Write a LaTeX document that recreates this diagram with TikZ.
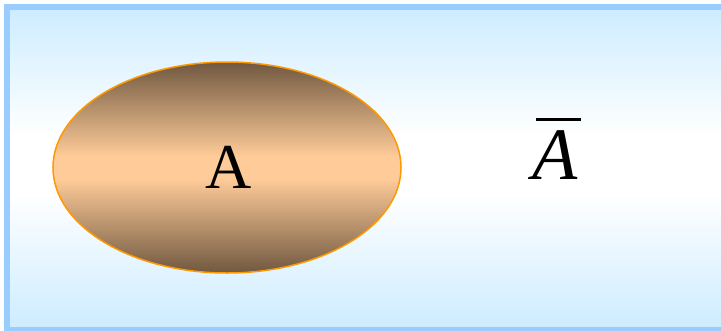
\documentclass[tikz,border=0pt]{standalone}
\usepackage{fontspec}
\setmainfont{Liberation Serif}
\definecolor{frameblue}{RGB}{153,204,255}
\definecolor{skyblue}{RGB}{204,236,255}
\definecolor{darkbrown}{RGB}{112,88,64}
\definecolor{peach}{RGB}{255,204,153}
\definecolor{setorange}{RGB}{255,153,0}
\pgfdeclareverticalshading{skyband}{100bp}{color(0bp)=(skyblue); color(25bp)=(skyblue); color(46bp)=(white); color(55bp)=(white); color(75bp)=(skyblue); color(100bp)=(skyblue)}
\pgfdeclareverticalshading{peachband}{100bp}{color(0bp)=(darkbrown); color(25bp)=(darkbrown); color(47.5bp)=(peach); color(52.5bp)=(peach); color(75bp)=(darkbrown); color(100bp)=(darkbrown)}
\tikzset{
  universe/.style={draw=frameblue, line width=6pt, shading=skyband},
  setA/.style={draw=setorange, line width=1.5pt, shading=peachband},
  biglabel/.style={inner sep=0pt, anchor=base}
}
\begin{document}
\begin{tikzpicture}[x=1pt,y=-1pt]
\useasboundingbox (0,0) rectangle (721,330);
\path[universe] (7,6.5) rectangle (727,329.5);
\path[setA] (227,167.5) ellipse [x radius=174, y radius=105.5];
\node[biglabel, font=\fontsize{64}{64}\selectfont] (a) at (229,188) {A};
\node[biglabel, font=\fontsize{74}{74}\selectfont] (abar) at (556.5,179) {\vbox{\offinterlineskip\hbox{\kern4pt\vrule width 45pt height 3pt}\kern9pt\hbox{\itshape A}}};
\end{tikzpicture}
\end{document}
